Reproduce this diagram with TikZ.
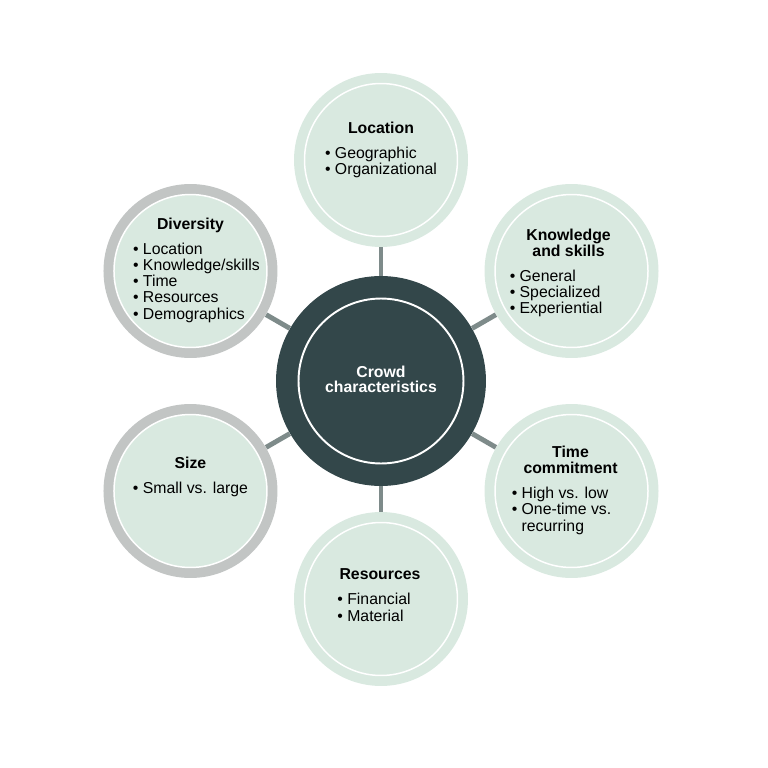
\documentclass[tikz,border=0pt]{standalone}
\usepackage{fontspec}
\setmainfont{Liberation Sans}
\usepackage{tikz}
\usetikzlibrary{positioning}

\definecolor{mint}{HTML}{D9E9E0}
\definecolor{slate}{HTML}{33474A}
\definecolor{spokegray}{HTML}{7E8B8A}
\definecolor{ringgray}{HTML}{C2C5C4}

\begin{document}
\begin{tikzpicture}[x=0.02cm, y=0.02cm,
		font=\fontsize{9}{9.1}\selectfont,
		petal/.style={circle, fill=#1, minimum size=3.48cm, inner sep=0pt,
			path picture={\draw[white, fill=mint, line width=0.85pt] (path picture bounding box.center) circle (1.53cm);}},
		petal/.default=mint,
		hub/.style={circle, fill=slate, minimum size=4.2cm, inner sep=0pt,
			path picture={\draw[white, line width=1.1pt] (path picture bounding box.center) circle (1.65cm);}},
		info/.style={align=center, inner sep=0pt},
		spoke/.style={draw=spokegray, line width=2.8pt}]
		
		\useasboundingbox (-381,-387) rectangle (387,381);
		
		\node[hub] (crowd) at (0,0) {};
		\node[info, text=white, font=\fontsize{9}{8.6}\selectfont\bfseries] (crowdtxt) at ([yshift=0.04cm]crowd) {Crowd\\characteristics};
		
		\node[petal] (loc) at (90:221) {};
		\node[petal] (know) at (30:220) {};
		\node[petal] (time) at (-30:220) {};
		\node[petal] (res) at (-90:218) {};
		\node[petal=ringgray] (size) at (-150:220) {};
		\node[petal=ringgray] (div) at (150:220) {};
		
		\draw[spoke] (crowd) -- (loc);
		\draw[spoke] (crowd) -- (know);
		\draw[spoke] (crowd) -- (time);
		\draw[spoke] (crowd) -- (res);
		\draw[spoke] (crowd) -- (size);
		\draw[spoke] (crowd) -- (div);
		
		% bullet lists sit a little off the title centre, as in the original
		\node[info] (loctxt) at ([yshift=0.18cm]loc) {\textbf{Location}\\[0.18cm]
			\begin{tabular}[t]{@{}l@{}}\textbullet~Geographic\\ \textbullet~Organizational\end{tabular}};
		\node[info] (knowtxt) at ([xshift=-0.06cm, yshift=-0.05cm]know) {\textbf{Knowledge}\\\textbf{and skills}\\[0.18cm]
			\hspace*{-0.5cm}\begin{tabular}[t]{@{}l@{}}\textbullet~General\\ \textbullet~Specialized\\ \textbullet~Experiential\end{tabular}};
		\node[info] (timetxt) at ([xshift=-0.02cm]time) {\textbf{Time}\\\textbf{commitment}\\[0.18cm]
			\hspace*{-0.36cm}\begin{tabular}[t]{@{}l@{}}\textbullet~High vs. low\\ \textbullet~One-time vs.\\ \phantom{\textbullet~}recurring\end{tabular}};
		\node[info] (restxt) at ([xshift=-0.02cm, yshift=0.03cm]res) {\textbf{Resources}\\[0.18cm]
			\hspace*{-0.24cm}\begin{tabular}[t]{@{}l@{}}\textbullet~Financial\\ \textbullet~Material\end{tabular}};
		\node[info] (sizetxt) at ([yshift=0.26cm]size) {\textbf{Size}\\[0.18cm]
			\begin{tabular}[t]{@{}l@{}}\textbullet~Small vs. large\end{tabular}};
		\node[info] (divtxt) at (div) {\textbf{Diversity}\\[0.18cm]
			\hspace*{0.24cm}\begin{tabular}[t]{@{}l@{}}\textbullet~Location\\ \textbullet~Knowledge/skills\\ \textbullet~Time\\ \textbullet~Resources\\ \textbullet~Demographics\end{tabular}};
	\end{tikzpicture}
\end{document}
